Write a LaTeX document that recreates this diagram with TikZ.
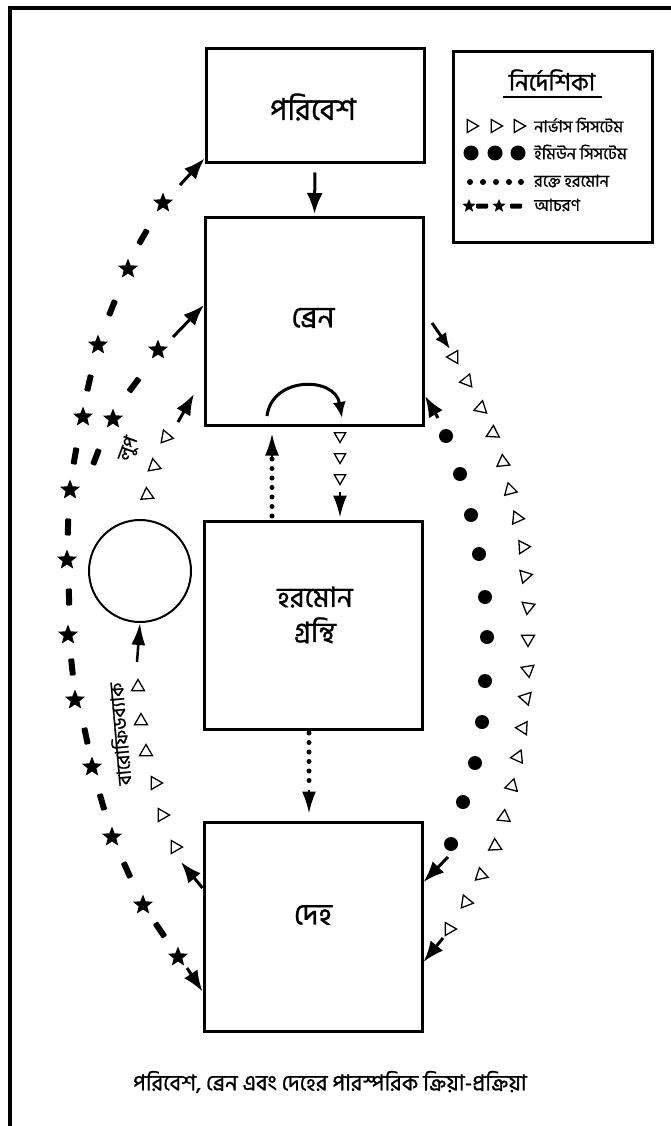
\documentclass[tikz,border=0pt]{standalone}
\usepackage{fontspec}
\setmainfont{Hind Siliguri}[Script=Bengali,FakeBold=1]
\usetikzlibrary{arrows.meta,shapes.geometric}

\begin{document}
\begin{tikzpicture}[x=1pt,y=-1pt,
  box/.style={draw,line width=3pt,minimum width=218pt,inner sep=0pt},
  boxtext/.style={font=\fontsize{30}{36}\selectfont,align=center,inner sep=0pt},
  arr/.style={line width=3pt,-{Latex[length=21pt,width=16pt]}},
  head/.style={line width=2.5pt,-{Latex[length=22pt,width=14pt]}},
  hdots/.style={line width=5pt,line cap=round,dash pattern=on 0pt off 9.5pt},
  nerve/.style={draw,line width=1.3pt,regular polygon,regular polygon sides=3,minimum size=15pt,inner sep=0pt},
  immune/.style={circle,fill,minimum size=14pt,inner sep=0pt},
  behstar/.style={star,star points=5,star point ratio=2.3,fill,minimum size=21pt,inner sep=0pt},
  behdash/.style={rectangle,fill,minimum width=17pt,minimum height=6pt,inner sep=0pt,rounded corners=1pt},
  legtext/.style={anchor=west,font=\fontsize{16.5}{18}\selectfont,inner sep=0pt},
  sidelabel/.style={font=\fontsize{19}{20}\selectfont,inner sep=0pt},
]
\useasboundingbox (0,0) rectangle (671,1126);
\clip (0,0) rectangle (671,1126);

% outer frame
\draw[line width=4pt] (10,8) rectangle (720,1180);

% main boxes
\node[box,minimum height=114pt] (env) at (315,106) {};
\node[box,minimum height=208pt] (brain) at (314.5,321) {};
\node[box,minimum height=208pt] (horm) at (313,625) {};
\node[box,minimum height=209pt] (body) at (313,926.5) {};
\node[boxtext] (envtxt) at (313,107) {পরিবেশ};
\node[boxtext] (braintxt) at (313,318) {ব্রেন};
\node[boxtext,font=\fontsize{28}{35}\selectfont] (hormtxt) at (315,615) {হরমোন\\গ্রন্থি};
\node[boxtext] (bodytxt) at (313,915) {দেহ};

% environment -> brain
\draw[arr,shorten <=8pt,shorten >=1.5pt] (env.south) -- (brain.north);

% loop inside the brain
\coordinate (loopA) at (267,416);
\coordinate (loopB) at (342,418);
\draw[line width=3pt,-{Latex[length=16pt,width=13pt]}] (loopA) .. controls (272,376) and (335,376) .. (loopB);

% brain -> hormone glands (nerves)
\foreach \y [count=\i] in {436,457,478}
  \node[nerve,minimum size=13pt,rotate=180] (bhn\i) at (340,\y) {};
\coordinate (bh) at (340,492);
\draw[head,shorten >=2pt] (bh) -- (bh |- horm.north);

% hormone glands -> brain (blood hormones)
\coordinate (hbA) at (272,516);
\coordinate (hbB) at (272,459);
\draw[hdots] (hbA) -- (hbB);
\draw[head,shorten >=7pt] (hbB) -- (hbB |- brain.south);

% hormone glands -> body (blood hormones)
\coordinate (hdA) at (309,733);
\coordinate (hdB) at (309,790);
\draw[hdots] (hdA) -- (hdB);
\draw[head,shorten >=7pt] (hdB) -- (hdB |- body.north);

% behaviour: body <-> environment (outer left arc)
\foreach \x/\y [count=\i] in {178/957,143/905,112/837,92/767,75/700,68/635,67/560,70/490,83/417,98/345,128/269,163/203}
  \node[behstar] (os\i) at (\x,\y) {};
\foreach \x/\y/\a [count=\i] in {160/930/124,127/870/114,102/802/106,86/736/102,72/667/96,69/597/91,68/527/88,75/456/80,89/383/77,112/308/68,143/237/60}
  \node[behdash,rotate=\a] (od\i) at (\x,\y) {};
\coordinate (obot) at (187,968);
\coordinate (otop) at (180,185);
\draw[arr] (obot) -- ([yshift=41pt]body.south west);
\draw[arr] (otop) -- ([yshift=6pt]env.south west);

% behaviour: branch into the brain (inner left arc)
\node[behdash,rotate=69] (id1) at (96,457) {};
\node[behstar] (is1) at (113,419) {};
\node[behdash,rotate=53] (id2) at (134,385) {};
\node[behstar] (is2) at (158,350) {};
\coordinate (itop) at (173,337);
\draw[arr] (itop) -- ([yshift=16pt]brain.west);

% baroreceptor feedback loop (left)
\node[circle,draw,line width=2pt,minimum size=102pt,inner sep=0pt] (baro) at (140,571) {};
\coordinate (lnTip) at (181,862);
\draw[arr] ([yshift=38.5pt]body.west) -- (lnTip);
\foreach \x/\y/\a [count=\i] in {175/847/0,162/815/0,155/783/0,146/752/90,141/721/90,138/687/90}
  \node[nerve,rotate=\a-90] (ln\i) at (\x,\y) {};
\coordinate (lnB) at (137,662);
\draw[head] (lnB) -- (baro.south);
\foreach \x/\y/\a [count=\i] in {147/495/95,154/466/100,166/437/110}
  \node[nerve,rotate=\a-90] (lu\i) at (\x,\y) {};
\coordinate (luA) at (178,422);
\coordinate (luB) at (194,394);
\draw[arr] (luA) -- (luB);
\node[sidelabel,rotate=95] (barolbl) at (119,734) {বারোফিডব্যাক};
\node[sidelabel,rotate=70] (looplbl) at (129,449) {লুপ};

% nervous system: brain -> body (right outer arc)
\coordinate (rnA) at (432,323);
\coordinate (rnB) at (450,349);
\draw[line width=3pt,-{Latex[length=16pt,width=13pt]}] (rnA) -- (rnB);
\foreach \x/\y/\a [count=\i] in {454/357/180,467/381/189,481/408/198,493/433/207,503/462/216,510/490/225,517/518/234,523/547/243,525/576/252,528/607/261,528/639/270,528/670/279,526/698/288,523/728/297,518/757/306,512/786/315,504/817/324,495/846/333,481/875/342,466/902/351,449/929/360}
  \node[nerve,rotate=\a-90] (rn\i) at (\x,\y) {};
\coordinate (rnC) at (443,938);
\draw[arr] (rnC) -- ([yshift=-35.5pt]body.east);

% immune system: brain <-> body (right inner arc)
\coordinate (riA) at (438,418);
\draw[arr] (riA) -- ([yshift=-75pt]brain.east);
\foreach \x/\y [count=\i] in {446/436,460/474,471/515,479/554,485/597,487/637,485/681,482/722,475/763,463/802,451/844}
  \node[immune] (ri\i) at (\x,\y) {};
\coordinate (riB) at (448,857);
\draw[arr] (riB) -- ([yshift=44.5pt]body.east);

% legend
\node[draw,line width=3pt,minimum width=199pt,minimum height=190pt,inner sep=0pt] (leg) at (552.5,147) {};
\node[font=\fontsize{24}{26}\selectfont,inner sep=0pt] (legtitle) at (552,80) {নির্দেশিকা};
\draw[line width=1.8pt] (503,97) -- (602,97);
\foreach \x [count=\i] in {471,495,518}
  \node[nerve,rotate=-90] (lgn\i) at (\x,126) {};
\node[legtext] (lgt1) at (534,125) {নার্ভাস সিসটেম};
\foreach \x [count=\i] in {471,495,518}
  \node[immune,minimum size=15pt] (lgi\i) at (\x,153) {};
\node[legtext] (lgt2) at (534,152) {ইমিউন সিসটেম};
\foreach \x [count=\i] in {470,483,496,509,521}
  \node[circle,fill,minimum size=6pt,inner sep=0pt] (lgh\i) at (\x,182) {};
\node[legtext] (lgt3) at (534,181) {রক্তে হরমোন};
\node[behstar,minimum size=14pt] (lgs1) at (469,206) {};
\node[behdash,minimum width=12pt,minimum height=5pt] (lgd1) at (482,206) {};
\node[behstar,minimum size=14pt] (lgs2) at (499,206) {};
\node[behdash,minimum width=12pt,minimum height=5pt] (lgd2) at (516,206) {};
\node[legtext] (lgt4) at (534,205) {আচরণ};

% caption
\node[font=\fontsize{22}{24}\selectfont,inner sep=0pt] (cap) at (330,1082) {পরিবেশ, ব্রেন এবং দেহের পারস্পরিক ক্রিয়া-প্রক্রিয়া};
\end{tikzpicture}
\end{document}
